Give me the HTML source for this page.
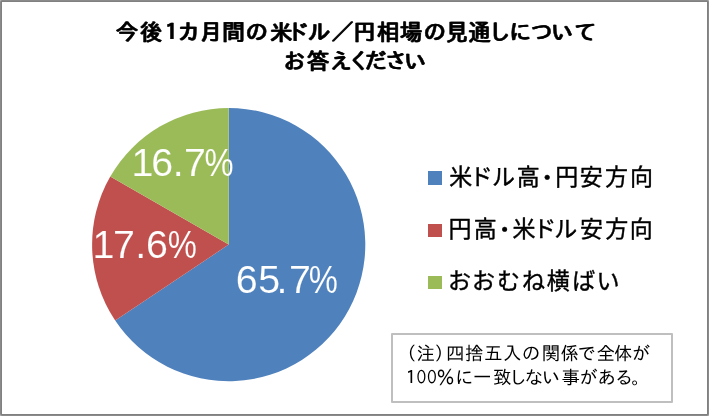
<!DOCTYPE html>
<html lang="ja">
<head>
<meta charset="utf-8">
<title>今後１カ月間の米ドル／円相場の見通しについて</title>
<style>
html,body{margin:0;padding:0;background:#fff;}
body{width:709px;height:416px;overflow:hidden;}
svg{display:block;}
text{white-space:pre;}
.t{font-family:"IPAGothic","Noto Sans CJK JP",sans-serif;font-size:22.5px;font-weight:normal;fill:#000;filter:url(#smear);stroke:#000;stroke-width:0.5px;stroke-linejoin:round;}
.l{font-family:"Noto Sans CJK JP","IPAGothic",sans-serif;font-size:23px;font-weight:normal;fill:#000;stroke:#000;stroke-width:0.4px;stroke-linejoin:round;}
.n{font-family:"IPAGothic","Noto Sans CJK JP",sans-serif;font-size:18.5px;font-weight:normal;fill:#000;}
.d{font-family:"Liberation Sans",sans-serif;font-size:39.4px;font-weight:normal;fill:#fff;stroke:none;stroke-width:0.12px;stroke-linejoin:round;}
</style>
</head>
<body>
<svg width="709" height="416" viewBox="0 0 709 416">
<rect x="0" y="0" width="709" height="416" fill="#B4B4B4"/>
<rect x="0.5" y="0.5" width="708" height="415" rx="1.5" fill="#fff" stroke="#8A8A8A" stroke-width="1"/>
<rect x="1.5" y="1.5" width="706" height="413" fill="#fff" stroke="#808080" stroke-width="1"/>
<defs>
<filter id="smear" x="-2%" y="-30%" width="104%" height="160%" color-interpolation-filters="sRGB"><feOffset in="SourceGraphic" dx="1.2" dy="0" result="o"/><feMerge><feMergeNode in="SourceGraphic"/><feMergeNode in="o"/></feMerge></filter>
<linearGradient id="gb" gradientUnits="userSpaceOnUse" x1="0" y1="0" x2="709" y2="0"><stop offset="0" stop-color="#9BBB59"/><stop offset="0.32257" stop-color="#9BBB59"/><stop offset="0.32257" stop-color="#4F81BD"/><stop offset="1" stop-color="#4F81BD"/></linearGradient>
</defs>
<g>
<path d="M228.7 244.6L228.70 108.00A136.6 136.6 0 1 1 115.19 320.59Z" fill="#4F81BD"/>
<path d="M228.7 244.6L115.19 320.59A136.6 136.6 0 0 1 110.28 176.51Z" fill="#C0504D"/>
<path d="M228.7 244.6L110.28 176.51A136.6 136.6 0 0 1 228.70 108.00Z" fill="#9BBB59"/>
</g>
<text class="t"><tspan x="115.15 139.45 159.45 176.65 198.90 221.65 245.10 269.45 285.85 307.55 330.70 352.70 376.30 399.45 422.90 445.20 467.70 487.80 508.45 530.10 550.45 573.80" y="40.0">今後１カ月間の米ドル／円相場の見通しについて</tspan></text>
<text class="t"><tspan x="282.75 306.45 329.40 347.45 364.05 384.30 403.55" y="69.2">お答えください</tspan></text>
<text class="d" style="stroke:#4F81BD"><tspan x="235.72 258.23 276.47 288.92" y="292.6">65.7</tspan><tspan x="308.74" y="292.6" textLength="29.08" lengthAdjust="spacingAndGlyphs">%</tspan></text>
<text class="d" style="stroke:#C0504D"><tspan x="92.51 112.92 135.17 145.92" y="258.4">17.6</tspan><tspan x="167.74" y="258.4" textLength="29.08" lengthAdjust="spacingAndGlyphs">%</tspan></text>
<text class="d" style="stroke:url(#gb)"><tspan x="131.61 151.22 172.77 183.92" y="176.1">16.7</tspan><tspan x="204.44" y="176.1" textLength="29.08" lengthAdjust="spacingAndGlyphs">%</tspan></text>
<rect x="428" y="171" width="14" height="14" fill="#4F81BD"/>
<text class="l"><tspan x="449.15 469.65 492.10 516.85" y="185.1">米ドル高</tspan><tspan x="536.27" y="184.95" style="font-size:21.85px">・</tspan><tspan x="555.25 579.85 605.10 630.05" y="185.1">円安方向</tspan></text>
<rect x="428" y="224" width="14" height="13" fill="#C0504D"/>
<text class="l"><tspan x="448.55 473.65" y="237.1">円高</tspan><tspan x="493.77" y="236.95" style="font-size:21.85px">・</tspan><tspan x="512.55 533.35 554.30 579.95 605.30 629.75" y="237.1">米ドル安方向</tspan></text>
<rect x="428" y="276" width="14" height="13" fill="#9BBB59"/>
<text class="l"><tspan x="447.95 472.05 497.00 521.90 546.70 572.20 596.50" y="289.1">おおむね横ばい</tspan></text>
<rect x="392" y="334" width="280" height="68" fill="#fff" stroke="#BFBFBF" stroke-width="2" stroke-linejoin="round"/>
<text class="n"><tspan x="397.75 416.60 434.45 446.10 465.05 484.00 503.10 521.70 541.75 560.45 577.60 596.40 613.95 631.70" y="360">（注）四捨五入の関係で全体が</tspan></text>
<text class="n"><tspan x="401.65" y="384.1">１</tspan><tspan x="413.95" y="384.1" textLength="14.80" lengthAdjust="spacingAndGlyphs">０</tspan><tspan x="424.60" y="384.1" textLength="14.80" lengthAdjust="spacingAndGlyphs">０</tspan><tspan x="436.35 454.90 473.05 493.05 508.45 524.55 541.70 561.45 579.35 597.60 614.75 631.35" y="384.1">％に一致しない事がある。</tspan></text>
</svg>
</body>
</html>
